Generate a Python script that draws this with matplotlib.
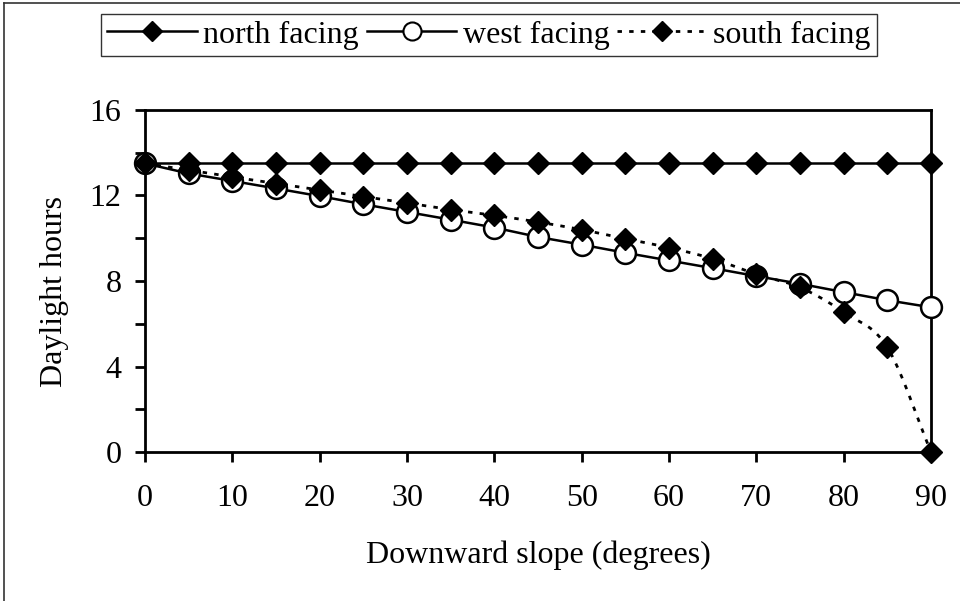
import numpy as np
import matplotlib
matplotlib.use("Agg")
import matplotlib.pyplot as plt
from matplotlib.ticker import MultipleLocator
from matplotlib.lines import Line2D

slope = [0, 5, 10, 15, 20, 25, 30, 35, 40, 45, 50, 55, 60, 65, 70, 75, 80, 85, 90]
north = [13.5] * 19
west = [13.5, 13.03, 12.68, 12.33, 11.97, 11.59, 11.23, 10.87, 10.5, 10.06,
        9.7, 9.32, 8.96, 8.6, 8.23, 7.87, 7.48, 7.1, 6.77]
south = [13.5, 13.19, 12.87, 12.56, 12.26, 11.95, 11.65, 11.34, 11.07, 10.76,
         10.4, 9.98, 9.56, 9.04, 8.32, 7.7, 6.54, 4.89, 0.0]

labels = ["north facing", "west facing", "south facing"]


def smooth(x, y, n=20):
    # Catmull-Rom style smoothing for drawing (like a spreadsheet "smoothed line")
    x = np.asarray(x, float)
    y = np.asarray(y, float)
    px = np.concatenate([[2 * x[0] - x[1]], x, [2 * x[-1] - x[-2]]])
    py = np.concatenate([[2 * y[0] - y[1]], y, [2 * y[-1] - y[-2]]])
    xs, ys = [], []
    t = np.linspace(0, 1, n, endpoint=False)
    for i in range(1, len(px) - 2):
        p0, p1, p2, p3 = px[i - 1], px[i], px[i + 1], px[i + 2]
        q0, q1, q2, q3 = py[i - 1], py[i], py[i + 1], py[i + 2]
        c1x, c1y = p1 + (p2 - p0) / 6, q1 + (q2 - q0) / 6
        c2x, c2y = p2 - (p3 - p1) / 6, q2 - (q3 - q1) / 6
        bx = (1 - t) ** 3 * p1 + 3 * (1 - t) ** 2 * t * c1x + 3 * (1 - t) * t ** 2 * c2x + t ** 3 * p2
        by = (1 - t) ** 3 * q1 + 3 * (1 - t) ** 2 * t * c1y + 3 * (1 - t) * t ** 2 * c2y + t ** 3 * q2
        xs.extend(bx)
        ys.extend(by)
    xs.append(x[-1])
    ys.append(y[-1])
    return np.array(xs), np.array(ys)


plt.rcParams['font.family'] = ['Liberation Serif', 'DejaVu Serif']
fs = 23

fig = plt.figure(figsize=(9.6, 6.01), dpi=100)
ax = fig.add_axes([145 / 960, 1 - 452 / 601, (931 - 145) / 960, (452 - 110) / 601])

lw = 1.8
dmk = dict(marker='D', ms=11, mfc='black', mec='black', mew=1, clip_on=False)
omk = dict(marker='o', ms=15, mfc='white', mec='black', mew=1.8, clip_on=False)
dotted = (0, (1.6, 2.6))

ax.plot(slope, north, color='black', lw=lw, clip_on=False, zorder=2)
ax.plot(slope, west, color='black', lw=lw, clip_on=False, zorder=2)
sx, sy = smooth(slope, south)
ax.plot(sx, sy, color='black', lw=2, ls=dotted, clip_on=False, zorder=2)

ax.plot(slope, north, ls='none', zorder=3, **dmk)
ax.plot(slope, west, ls='none', zorder=4, **omk)
ax.plot(slope, south, ls='none', zorder=5, **dmk)

ax.set_xlim(0, 90)
ax.set_ylim(0, 16)
ax.xaxis.set_major_locator(MultipleLocator(10))
ax.yaxis.set_major_locator(MultipleLocator(4))
ax.yaxis.set_minor_locator(MultipleLocator(2))
ax.tick_params(axis='both', which='both', direction='out', length=7, width=2,
               labelsize=fs, color='black')
ax.tick_params(axis='x', pad=16)
ax.tick_params(axis='y', pad=10)
for s in ax.spines.values():
    s.set_linewidth(2)
    s.set_color('black')

ax.set_xlabel("Downward slope (degrees)", fontsize=fs, labelpad=20)
ax.set_ylabel("Daylight hours", fontsize=fs)
ax.yaxis.set_label_coords(-0.097, 0.47)

handles = [
    Line2D([], [], color='black', lw=lw, marker='D', ms=10, mfc='black', mec='black'),
    Line2D([], [], color='black', lw=lw, marker='o', ms=13, mfc='white', mec='black', mew=1.5),
    Line2D([], [], color='black', lw=2, ls=dotted, marker='D', ms=10, mfc='black', mec='black'),
]
leg = fig.legend(handles, labels, loc='center', bbox_to_anchor=(489 / 960, 1 - 35 / 601),
                 ncol=3, fontsize=fs, frameon=True, fancybox=False, edgecolor='black',
                 handlelength=2.8, handletextpad=0.2, columnspacing=0.25,
                 borderpad=0.2, borderaxespad=0)
leg.get_frame().set_linewidth(1)

fig.add_artist(Line2D([3.5 / 960, 3.5 / 960], [0, 1 - 2.5 / 601], color='#333333', lw=1.2,
                      transform=fig.transFigure))
fig.add_artist(Line2D([3.5 / 960, 1], [1 - 2.5 / 601, 1 - 2.5 / 601], color='#333333', lw=1.2,
                      transform=fig.transFigure))

fig.savefig("out.png", dpi=100)
